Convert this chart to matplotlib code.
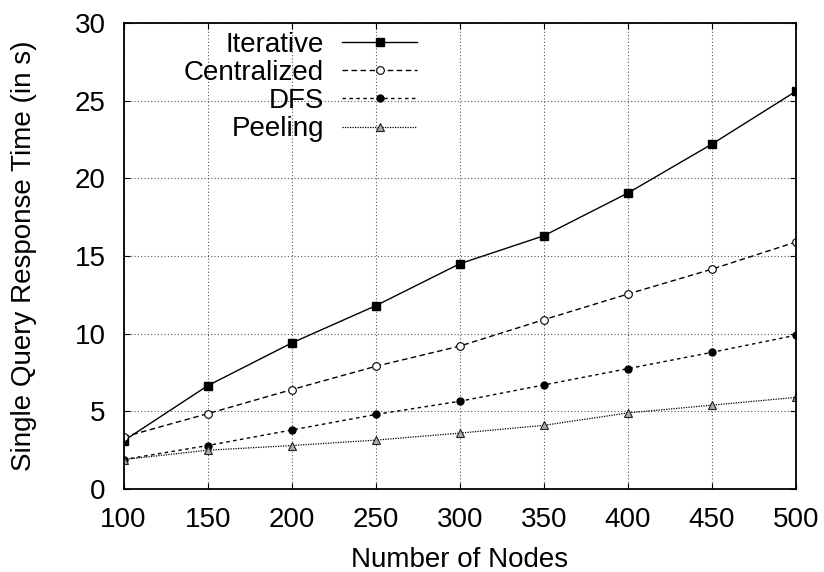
import matplotlib
matplotlib.use("Agg")
from matplotlib import pyplot as plt

plt.rcParams['font.family'] = ['Liberation Sans', 'DejaVu Sans']

nodes = [100, 150, 200, 250, 300, 350, 400, 450, 500]
iterative = [3.1, 6.65, 9.4, 11.8, 14.5, 16.3, 19.05, 22.2, 25.6]
centralized = [3.35, 4.85, 6.4, 7.9, 9.2, 10.9, 12.55, 14.15, 15.9]
dfs = [1.9, 2.8, 3.8, 4.8, 5.65, 6.7, 7.75, 8.8, 9.9]
peeling = [1.9, 2.5, 2.8, 3.15, 3.6, 4.1, 4.9, 5.4, 5.9]

fig = plt.figure(figsize=(8.24, 5.72), dpi=100)
ax = fig.add_axes([0.150, 0.145, 0.816, 0.815])

ax.plot(nodes, iterative, '-', color='black', lw=1.0, marker='s', ms=5.5,
        label='Iterative')
ax.plot(nodes, centralized, color='black', lw=1.0, dashes=(4, 2.5), marker='o',
        ms=5.5, mfc='white', mew=0.8, label='Centralized')
ax.plot(nodes, dfs, color='black', lw=1.0, dashes=(2.5, 2.5), marker='o',
        ms=5, label='DFS')
ax.plot(nodes, peeling, color='black', lw=0.9, dashes=(1, 1), marker='^',
        ms=5.5, mfc='#aaaaaa', mec='#222222', mew=0.8, label='Peeling')

ax.set_xlim(100, 500)
ax.set_ylim(0, 30)
ax.set_xticks(nodes)
ax.set_yticks(range(0, 31, 5))
ax.grid(True, color='#555555', linestyle=(0, (1, 2)), lw=0.8)
ax.tick_params(direction='in', top=True, right=True, labelsize=20, length=4.5,
               pad=13)
for s in ax.spines.values():
    s.set_linewidth(1.3)

ax.set_xlabel('Number of Nodes', fontsize=20, labelpad=10)
ax.set_ylabel('Single Query Response Time (in s)', fontsize=20, labelpad=27)

leg = ax.legend(loc='upper right', bbox_to_anchor=(0.4364, 0.981),
                frameon=False, markerfirst=False, handlelength=2.7,
                fontsize=20, labelspacing=0.08, handletextpad=0.65,
                borderpad=0, borderaxespad=0)
for t in leg.get_texts():
    t.set_ha('right')

fig.savefig('out.png', dpi=100)
